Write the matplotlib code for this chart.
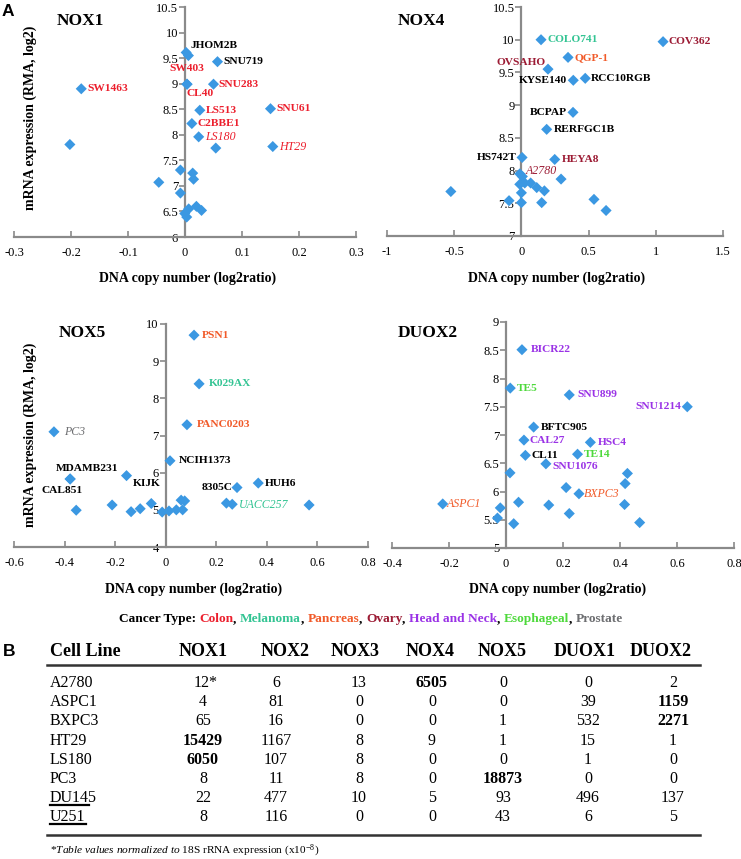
import matplotlib
matplotlib.use('Agg')
import matplotlib.pyplot as plt
from matplotlib.lines import Line2D

# ---------------- DATA ----------------
cancer_types = ["Colon", "Melanoma", "Pancreas", "Ovary", "Head and Neck", "Esophageal", "Prostate"]

# NOX1 panel
nox1_x = [0.002, 0.006, 0.057, -0.182, 0.0035, 0.0035, 0.050, 0.026, 0.150, 0.012, 0.024, 0.154,
          -0.202, 0.054, -0.008, 0.0135, 0.015, -0.046, -0.008, 0.0065, 0.020, 0.029, -0.0005, 0.003]
nox1_y = [9.61, 9.55, 9.43, 8.90, 8.99, 8.99, 8.99, 8.48, 8.51, 8.22, 7.96, 7.77,
          7.81, 7.74, 7.31, 7.25, 7.13, 7.07, 6.86, 6.55, 6.60, 6.52, 6.46, 6.39]
nox1_names = ["JHOM2B", "", "SNU719", "SW1463", "SW403", "CL40", "SNU283", "LS513", "SNU61", "C2BBE1", "LS180", "HT29",
              "", "", "", "", "", "", "", "", "", "", "", ""]
nox1_types = ["", "", "", "Colon", "Colon", "Colon", "Colon", "Colon", "Colon", "Colon", "Colon", "Colon",
              "", "", "", "", "", "", "", "", "", "", "", ""]

# NOX4 panel
nox4_x = [0.146, 1.054, 0.347, 0.198, 0.475, 0.386, 0.384, 0.188, 0.005, 0.248, 0.007,
          -0.012, -0.012, 0.025, 0.069, 0.114, 0.171, 0.0, 0.0, 0.151, 0.295, 0.54, 0.63, -0.525, -0.092]
nox4_y = [10.0, 9.97, 9.73, 9.55, 9.41, 9.38, 8.89, 8.63, 8.20, 8.17, 7.91,
          7.95, 7.79, 7.81, 7.81, 7.74, 7.69, 7.66, 7.51, 7.51, 7.87, 7.56, 7.39, 7.68, 7.54]
nox4_names = ["COLO741", "COV362", "QGP-1", "OVSAHO", "RCC10RGB", "KYSE140", "BCPAP", "RERFGC1B", "HS742T", "HEYA8", "A2780",
              "", "", "", "", "", "", "", "", "", "", "", "", "", ""]
nox4_types = ["Melanoma", "Ovary", "Pancreas", "Ovary", "", "", "", "", "", "Ovary", "Ovary",
              "", "", "", "", "", "", "", "", "", "", "", "", "", ""]

# NOX5 panel
nox5_x = [0.112, 0.132, 0.084, -0.442, 0.017, -0.378, -0.378, -0.155, 0.366, 0.282, 0.263,
          0.240, 0.567, -0.212, -0.137, -0.101, -0.057, -0.014, 0.013, 0.042, 0.067, 0.061, 0.075, -0.354]
nox5_y = [9.70, 8.39, 7.29, 7.10, 6.32, 5.83, 5.83, 5.92, 5.72, 5.60, 5.15,
          5.18, 5.13, 5.13, 4.95, 5.03, 5.17, 4.94, 4.97, 5.00, 5.00, 5.26, 5.24, 4.99]
nox5_names = ["PSN1", "K029AX", "PANC0203", "PC3", "NCIH1373", "MDAMB231", "CAL851", "KIJK", "HUH6", "8305C", "UACC257",
              "", "", "", "", "", "", "", "", "", "", "", "", ""]
nox5_types = ["Pancreas", "Melanoma", "Pancreas", "Prostate", "", "", "", "", "", "", "Melanoma",
              "", "", "", "", "", "", "", "", "", "", "", "", ""]

# DUOX2 panel
duox2_x = [0.056, 0.015, 0.222, 0.636, 0.097, 0.063, 0.296, 0.068, 0.251, 0.140, 0.256, -0.222,
           0.014, 0.426, 0.418, 0.211, 0.044, -0.020, 0.150, 0.416, 0.222, -0.030, 0.027, 0.469]
duox2_y = [8.51, 7.83, 7.71, 7.50, 7.14, 6.91, 6.87, 6.64, 6.66, 6.49, 5.96, 5.78,
           6.33, 6.32, 6.14, 6.07, 5.81, 5.71, 5.76, 5.77, 5.61, 5.53, 5.43, 5.45]
duox2_names = ["BICR22", "TE5", "SNU899", "SNU1214", "BFTC905", "CAL27", "HSC4", "CL11", "TE14", "SNU1076", "BXPC3", "ASPC1",
               "", "", "", "", "", "", "", "", "", "", "", ""]
duox2_types = ["Head and Neck", "Esophageal", "Head and Neck", "Head and Neck", "", "Head and Neck", "Head and Neck", "",
               "Esophageal", "Head and Neck", "Pancreas", "Pancreas",
               "", "", "", "", "", "", "", "", "", "", "", ""]

# Table (B)
table_cols = ["NOX1", "NOX2", "NOX3", "NOX4", "NOX5", "DUOX1", "DUOX2"]
table_rows = ["A2780", "ASPC1", "BXPC3", "HT29", "LS180", "PC3", "DU145", "U251"]
table_vals = [
    ["12*", "6", "13", "6505", "0", "0", "2"],
    ["4", "81", "0", "0", "0", "39", "1159"],
    ["65", "16", "0", "0", "1", "532", "2271"],
    ["15429", "1167", "8", "9", "1", "15", "1"],
    ["6050", "107", "8", "0", "0", "1", "0"],
    ["8", "11", "8", "0", "18873", "0", "0"],
    ["22", "477", "10", "5", "93", "496", "137"],
    ["8", "116", "0", "0", "43", "6", "5"],
]
table_bold = [(0, 3), (1, 6), (2, 6), (3, 0), (4, 0), (5, 4)]
underlined_rows = ["DU145", "U251"]

# ---------------- STYLE ----------------
W, H = 741, 859
SERIF = ['Liberation Serif', 'DejaVu Serif']
plt.rcParams['font.family'] = SERIF
plt.rcParams['mathtext.fontset'] = 'custom'
plt.rcParams['mathtext.rm'] = 'Liberation Serif'
plt.rcParams['mathtext.it'] = 'Liberation Serif:italic'

type_colors = {"Colon": "#ec1f2d", "Melanoma": "#33c493", "Pancreas": "#f15a29", "Ovary": "#9c1b34",
               "Head and Neck": "#9a32e6", "Esophageal": "#4ed93c", "Prostate": "#6d6e71", "": "black"}
italic_names = {"LS180", "HT29", "A2780", "PC3", "UACC257", "BXPC3", "ASPC1"}
MARK = "#3b98e2"
SPINE = "#8a8a8a"

fig = plt.figure(figsize=(W / 100, H / 100), dpi=100)


def fx(px):
    return px / W


def fy(py):
    return 1 - py / H


# label offsets in pixels (dx, dy up-positive, ha)
label_layout = {
    "JHOM2B": (4, 7, "left"), "SW403": (0, 16, "center"), "CL40": (0, -9, "left"),
    "SNU719": (6, 0, "left"), "SNU283": (5, 0, "left"), "SW1463": (6, 0, "left"),
    "LS513": (6, 0, "left"), "SNU61": (6, 0, "left"), "C2BBE1": (6, 0, "left"),
    "LS180": (6, 0, "left"), "HT29": (6, 0, "left"),
    "COLO741": (6, 0, "left"), "COV362": (5, 0, "left"), "QGP-1": (6, 0, "left"),
    "OVSAHO": (-2, 7, "right"), "KYSE140": (-6, 0, "right"), "RCC10RGB": (6, 0, "left"),
    "BCPAP": (-6, 0, "right"), "RERFGC1B": (7, 0, "left"), "HS742T": (-5, 0, "right"),
    "HEYA8": (7, 0, "left"), "A2780": (3, 5, "left"),
    "PSN1": (8, 0, "left"), "K029AX": (10, 0, "left"), "PANC0203": (10, 0, "left"),
    "PC3": (10, 0, "left"), "NCIH1373": (9, 0, "left"), "MDAMB231": (17, 10, "center"),
    "CAL851": (-8, -12, "center"), "KIJK": (6, -8, "left"), "HUH6": (7, 0, "left"),
    "8305C": (-5, 0, "right"), "UACC257": (7, -1, "left"),
    "BICR22": (9, 0, "left"), "TE5": (7, 0, "left"), "SNU899": (8, 0, "left"),
    "SNU1214": (-6, 0, "right"), "BFTC905": (7, 0, "left"), "CAL27": (6, 0, "left"),
    "HSC4": (7, 0, "left"), "CL11": (6, 0, "left"), "TE14": (6, 0, "left"),
    "SNU1076": (7, -3, "left"), "BXPC3": (5, 0, "left"), "ASPC1": (4, 0, "left"),
}


def make_panel(box, xlim, ylim, xticks, yticks, xs, ys, names, types, title, title_pos, ylab_pos, xlab_pos):
    l, t, r, b = box
    ax = fig.add_axes([fx(l), fy(b), (r - l) / W, (b - t) / H])
    ax.set_xlim(*xlim)
    ax.set_ylim(*ylim)
    ax.patch.set_visible(False)
    for s in ("top", "right"):
        ax.spines[s].set_visible(False)
    ax.spines["left"].set_position(("data", 0))
    for s in ("left", "bottom"):
        ax.spines[s].set_color(SPINE)
        ax.spines[s].set_linewidth(1.6)
    ax.set_xticks(xticks)
    ax.set_yticks(yticks)
    ax.set_xticklabels(["%g" % v for v in xticks])
    ax.set_yticklabels(["%g" % v for v in yticks])
    ax.tick_params(axis="y", direction="out", length=4, width=1.2, color=SPINE, labelsize=9, pad=1)
    ax.tick_params(axis="x", direction="in", length=4, width=1.2, color=SPINE, labelsize=9, pad=7)
    ax.scatter(xs, ys, marker="D", s=32, color=MARK, edgecolors="none", zorder=3, clip_on=False)
    for x, y, n, tp in zip(xs, ys, names, types):
        if not n:
            continue
        dx, dy, ha = label_layout[n]
        it = n in italic_names
        ax.annotate(n, (x, y), xytext=(dx * 0.72, dy * 0.72), textcoords="offset points",
                    ha=ha, va="center", fontsize=8.2 if not it else 8.6,
                    fontweight="normal" if it else "bold", fontstyle="italic" if it else "normal",
                    color=type_colors[tp], zorder=4)
    fig.text(fx(title_pos[0]), fy(title_pos[1]), title, fontsize=12.5, fontweight="bold", ha="left", va="center")
    if ylab_pos:
        fig.text(fx(ylab_pos[0]), fy(ylab_pos[1]), "mRNA expression (RMA, log2)", rotation=90,
                 fontsize=10, fontweight="bold", ha="center", va="center")
    fig.text(fx(xlab_pos[0]), fy(xlab_pos[1]), "DNA copy number (log2ratio)",
             fontsize=10, fontweight="bold", ha="center", va="center")
    return ax


make_panel((14, 7, 356, 237), (-0.3, 0.3), (6, 10.5),
           [-0.3, -0.2, -0.1, 0, 0.1, 0.2, 0.3], [6, 6.5, 7, 7.5, 8, 8.5, 9, 9.5, 10, 10.5],
           nox1_x, nox1_y, nox1_names, nox1_types, "NOX1", (57, 21), (30, 118), (188, 278))
make_panel((387, 7, 723, 236), (-1, 1.5), (7, 10.5),
           [-1, -0.5, 0, 0.5, 1, 1.5], [7, 7.5, 8, 8.5, 9, 9.5, 10, 10.5],
           nox4_x, nox4_y, nox4_names, nox4_types, "NOX4", (398, 21), None, (557, 278))
make_panel((14, 324, 368, 547), (-0.6, 0.8), (4, 10),
           [-0.6, -0.4, -0.2, 0, 0.2, 0.4, 0.6, 0.8], [4, 5, 6, 7, 8, 9, 10],
           nox5_x, nox5_y, nox5_names, nox5_types, "NOX5", (59, 333), (30, 435), (194, 589))
make_panel((392, 322, 734, 548), (-0.4, 0.8), (5, 9),
           [-0.4, -0.2, 0, 0.2, 0.4, 0.6, 0.8], [5, 5.5, 6, 6.5, 7, 7.5, 8, 8.5, 9],
           duox2_x, duox2_y, duox2_names, duox2_types, "DUOX2", (398, 333), None, (558, 589))

# panel letters
fig.text(fx(2), fy(11), "A", fontsize=12.5, fontweight="bold", family=["Liberation Sans", "DejaVu Sans"],
         ha="left", va="center")
fig.text(fx(3), fy(651), "B", fontsize=12.5, fontweight="bold", family=["Liberation Sans", "DejaVu Sans"],
         ha="left", va="center")

# Cancer type legend line (multicolour)
renderer = fig.canvas.get_renderer()
pieces = [("Cancer Type: ", "black")]
for i, ct in enumerate(cancer_types):
    pieces.append((ct, type_colors[ct]))
    if i < len(cancer_types) - 1:
        pieces.append((", ", "black"))
texts = []
xcur = 0.0
for s, c in pieces:
    t = fig.text(xcur, fy(619), s, color=c, fontsize=9.6, fontweight="bold", ha="left", va="center")
    bb = t.get_window_extent(renderer)
    texts.append((t, xcur))
    xcur += bb.width / W
total = xcur
x0 = fx(371) - total / 2
for t, xo in texts:
    t.set_x(x0 + xo)

# Table
hdr_y = 651
fig.text(fx(50), fy(hdr_y), "Cell Line", fontsize=13, fontweight="bold", ha="left", va="center")
hdr_x = [203, 285, 355, 430, 502, 585, 661]
val_x = [203, 276, 359, 432, 503, 588, 673]
for c, xc in zip(table_cols, hdr_x):
    fig.text(fx(xc), fy(hdr_y), c, fontsize=13, fontweight="bold", ha="center", va="center")
fig.add_artist(Line2D([fx(47), fx(700)], [fy(665), fy(665)], color="#333333", lw=1.8))
row_y0, row_dy = 683, 19.2
for i, (rn, vals) in enumerate(zip(table_rows, table_vals)):
    y = row_y0 + i * row_dy
    t = fig.text(fx(50), fy(y), rn, fontsize=11.5, ha="left", va="center")
    if rn in underlined_rows:
        bb = t.get_window_extent(renderer)
        fig.add_artist(Line2D([fx(50), fx(50) + (bb.width - (8 if rn == "DU145" else 0)) / W],
                              [fy(y + 7), fy(y + 7)], color="black", lw=1.6))
    for j, (v, xc) in enumerate(zip(vals, val_x)):
        bold = (i, j) in table_bold
        xx = xc + (3 if v.endswith("*") else 0)
        fig.text(fx(xx), fy(y), v, fontsize=11.5, fontweight="bold" if bold else "normal",
                 ha="center", va="center")
fig.add_artist(Line2D([fx(47), fx(700)], [fy(835), fy(835)], color="#333333", lw=1.8))
fig.text(fx(50), fy(851), r"*$\it{Table\ values\ normalized\ to}$ 18S rRNA expression (x10$^{-8}$)",
         fontsize=8.2, ha="left", va="center")

fig.savefig("out.png", dpi=100)
